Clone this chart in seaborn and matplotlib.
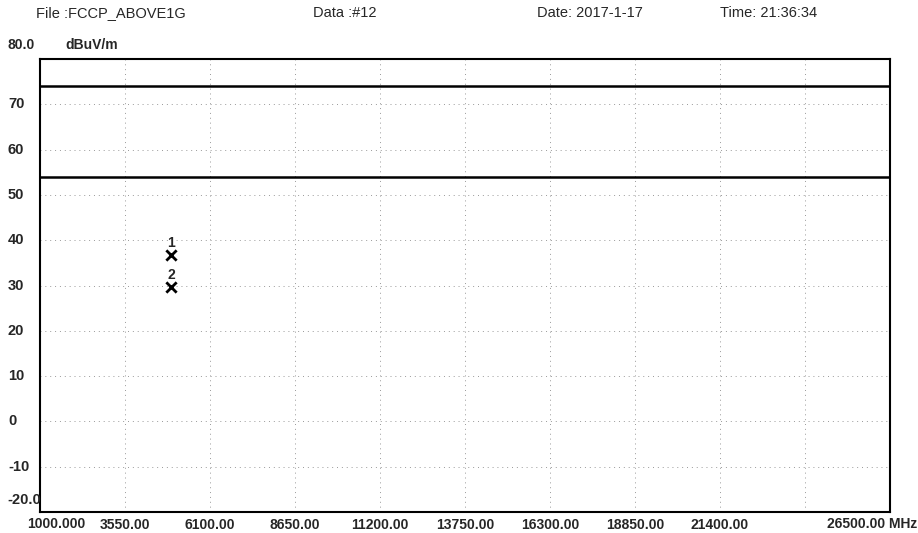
import matplotlib
matplotlib.use("Agg")
import matplotlib.pyplot as plt
import matplotlib.transforms as mtransforms
import seaborn as sns
import pandas as pd

# Data
freq_ticks = [3550, 6100, 8650, 11200, 13750, 16300, 18850, 21400, 23950]
freq_labels = ["3550.00", "6100.00", "8650.00", "11200.00", "13750.00",
               "16300.00", "18850.00", "21400.00", ""]
level_ticks = [70, 60, 50, 40, 30, 20, 10, 0, -10]

limit_freq = [1000, 26500]
limit_peak = [74, 74]
limit_avg = [54, 54]

marker_ids = ["1", "2"]
marker_freq = [4930, 4930]
marker_level = [36.8, 29.7]

sns.set_style("white")
plt.rcParams["font.family"] = ["Liberation Sans", "DejaVu Sans"]

fig = plt.figure(figsize=(9.18, 5.33), dpi=100)
ax = fig.add_axes([40 / 918, 1 - 512 / 533, 850 / 918, 453 / 533])

limits = pd.DataFrame({"freq": limit_freq * 2,
                       "level": limit_peak + limit_avg,
                       "line": ["peak", "peak", "avg", "avg"]})
sns.lineplot(data=limits, x="freq", y="level", units="line", estimator=None,
             color="black", linewidth=1.8, ax=ax)

markers = pd.DataFrame({"freq": marker_freq, "level": marker_level})
sns.scatterplot(data=markers, x="freq", y="level", marker="x", s=55,
                color="black", linewidth=2.0, ax=ax)
for mid, f, lv in zip(marker_ids, marker_freq, marker_level):
    ax.text(f, lv + 1.1, mid, ha="center", va="bottom", fontsize=10,
            fontweight="bold")

ax.set_xlim(1000, 26500)
ax.set_ylim(-20, 80)
ax.set_xticks(freq_ticks)
ax.set_xticklabels(freq_labels, fontsize=10, fontweight="bold")
ax.set_yticks(level_ticks)
ax.set_yticklabels([])
ax.tick_params(length=0, pad=4)
ax.grid(True, color="#999999", linestyle=(0, (1, 4)), linewidth=0.7)
ax.set_xlabel("")
ax.set_ylabel("")
for sp in ax.spines.values():
    sp.set_color("black")
    sp.set_linewidth(1.5)

# y labels, left aligned near the page edge
ytrans = mtransforms.blended_transform_factory(fig.transFigure, ax.transData)
for v in level_ticks:
    ax.text(8 / 918, v, str(v), transform=ytrans, ha="left", va="center",
            fontsize=10.5, fontweight="bold")
ax.text(7 / 918, -17.4, "-20.0", transform=ytrans, ha="left", va="center",
        fontsize=10.5, fontweight="bold")

# end labels of the x axis
fig.text(27 / 918, 1 - 524.5 / 533, "1000.000", ha="left", va="center",
         fontsize=10, fontweight="bold")
fig.text(917 / 918, 1 - 524.5 / 533, "26500.00 MHz", ha="right", va="center",
         fontsize=10, fontweight="bold")

# header
fig.text(8 / 918, 1 - 45 / 533, "80.0", ha="left", va="center",
         fontsize=10, fontweight="bold")
fig.text(65 / 918, 1 - 45 / 533, "dBuV/m", ha="left", va="center",
         fontsize=10, fontweight="bold")
fig.text(36 / 918, 1 - 13 / 533, "File :FCCP_ABOVE1G", ha="left", va="center",
         fontsize=10.5)
fig.text(313 / 918, 1 - 13 / 533, "Data :#12", ha="left", va="center",
         fontsize=10.5)
fig.text(537 / 918, 1 - 13 / 533, "Date: 2017-1-17", ha="left", va="center",
         fontsize=10.5)
fig.text(720 / 918, 1 - 13 / 533, "Time: 21:36:34", ha="left", va="center",
         fontsize=10.5)

fig.savefig("out.png", dpi=100, facecolor="white")
